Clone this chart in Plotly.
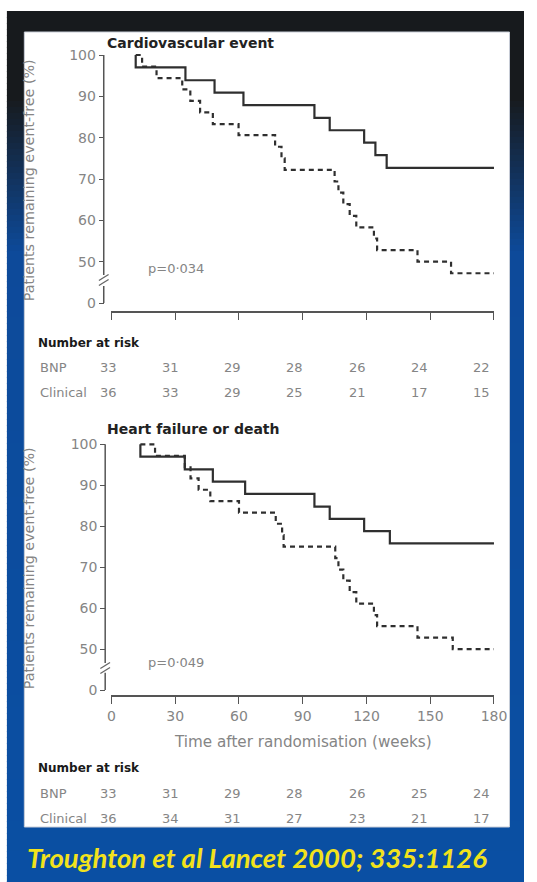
import plotly.graph_objects as go

# ---------------- data ----------------
weeks_ticks = [0, 30, 60, 90, 120, 150, 180]
y_tickvals = [40, 50, 60, 70, 80, 90, 100]
y_ticktext = ["0", "50", "60", "70", "80", "90", "100"]

# Cardiovascular event
cv_bnp_t = [11.4, 11.4, 34.8, 48.5, 62.1, 95.5, 102.7, 118.9, 124.2, 129.5, 180]
cv_bnp_v = [100, 97.0, 93.9, 90.9, 87.9, 84.8, 81.8, 78.8, 75.8, 72.7, 72.7]
cv_cli_t = [11.4, 14.4, 21.2, 33.3, 37.1, 41.7, 47.7, 59.8, 77.0, 80.0, 81.5,
            105.0, 106.8, 109.1, 112.1, 115.2, 123.5, 125.0, 144.0, 159.8, 180]
cv_cli_v = [100, 97.2, 94.4, 91.7, 88.9, 86.1, 83.3, 80.6, 77.8, 75.0, 72.2,
            69.4, 66.7, 63.9, 61.1, 58.3, 55.6, 52.8, 50.0, 47.2, 47.2]

# Heart failure or death
hf_bnp_t = [13.6, 13.6, 34.5, 47.7, 62.9, 95.5, 102.7, 118.9, 131.0, 180]
hf_bnp_v = [100, 97.0, 93.9, 90.9, 87.9, 84.8, 81.8, 78.8, 75.8, 75.8]
hf_cli_t = [13.6, 20.5, 34.5, 37.2, 41.0, 46.5, 60.0, 77.3, 80.3, 81.0,
            105.3, 106.8, 109.1, 112.1, 115.2, 123.5, 125.0, 144.0, 160.6, 180]
hf_cli_v = [100, 97.2, 94.4, 91.7, 88.9, 86.1, 83.3, 80.6, 77.8, 75.0,
            72.2, 69.4, 66.7, 63.9, 61.1, 58.3, 55.6, 52.8, 50.0, 50.0]

risk_times = [0, 30, 60, 90, 120, 150, 180]
cv_risk_bnp = [33, 31, 29, 28, 26, 24, 22]
cv_risk_cli = [36, 33, 29, 25, 21, 17, 15]
hf_risk_bnp = [33, 31, 29, 28, 26, 25, 24]
hf_risk_cli = [36, 34, 31, 27, 23, 21, 17]

# ---------------- geometry helpers ----------------
W, H = 537, 882
def PX(px): return px / W
def PY(py): return 1 - py / H

GRAY = "#858585"
DARK = "#2f2f2f"
FONT = "DejaVu Sans"

fig = go.Figure()

# ---------------- background frame (gradient) ----------------
shapes = []
def lerp(a, b, f): return tuple(int(round(a[i] + (b[i] - a[i]) * f)) for i in range(3))
top_c = (23, 26, 29)
mid_c = (13, 74, 154)
bot_c = (10, 79, 163)
y = 11
step = 6
while y < H:
    if y < 95:
        c = top_c
    elif y < 250:
        c = lerp(top_c, mid_c, (y - 95) / 155)
    else:
        c = lerp(mid_c, bot_c, (y - 250) / (H - 250))
    shapes.append(dict(type="rect", xref="paper", yref="paper",
                       x0=PX(3), x1=1, y0=PY(min(y + step + 1, H)), y1=PY(y),
                       fillcolor="rgb(%d,%d,%d)" % c, line=dict(width=0), layer="below"))
    y += step
# white panel
shapes.append(dict(type="rect", xref="paper", yref="paper",
                   x0=PX(21), x1=PX(522), y0=PY(827), y1=PY(32),
                   fillcolor="white", line=dict(color="#c9ced8", width=1), layer="below"))

# ---------------- axes layout ----------------
def ydom(py0, pxper):
    return [PY(py0 + 2 * pxper), PY(py0 - 62 * pxper)]

dom1 = ydom(303, 4.133)
dom2 = ydom(690, 4.095)
xdom = [PX(111), PX(506)]

axis_common = dict(showgrid=False, zeroline=False, ticks="outside",
                   tickcolor="#555", tickwidth=1.3,
                   tickfont=dict(family=FONT, size=14, color=GRAY))

fig.update_layout(
    width=W, height=H, autosize=False, margin=dict(l=0, r=0, t=0, b=0),
    paper_bgcolor="white", plot_bgcolor="rgba(0,0,0,0)",
    showlegend=False,
    xaxis=dict(domain=xdom, range=[0, 180], anchor="free", position=PY(312),
               tickvals=weeks_ticks, showticklabels=False, ticklen=7,
               showline=True, linecolor="#555", linewidth=1.5, **axis_common),
    yaxis=dict(domain=dom1, range=[38, 102], anchor="free", position=PX(103),
               tickvals=y_tickvals, ticktext=y_ticktext, ticklen=5,
               showline=False, **axis_common),
    xaxis2=dict(domain=xdom, range=[0, 180], anchor="free", position=PY(696),
                tickvals=weeks_ticks, ticklen=7,
                showline=True, linecolor="#555", linewidth=1.5, **axis_common),
    yaxis2=dict(domain=dom2, range=[38, 102], anchor="free", position=PX(104.5),
                tickvals=y_tickvals, ticktext=y_ticktext, ticklen=5,
                showline=False, **axis_common),
)

# ---------------- traces ----------------
def km(t, v, dash, xa, ya):
    fig.add_trace(go.Scatter(x=t, y=v, mode="lines", line_shape="hv",
                             line=dict(color=DARK, width=2.2, dash=dash),
                             xaxis=xa, yaxis=ya, hoverinfo="skip"))

km(cv_bnp_t, cv_bnp_v, "solid", "x", "y")
km(cv_cli_t, cv_cli_v, "5px,4px", "x", "y")
km(hf_bnp_t, hf_bnp_v, "solid", "x2", "y2")
km(hf_cli_t, hf_cli_v, "5px,4px", "x2", "y2")

# ---------------- broken y-axis lines ----------------
def broken_axis(xpx, yref, brk_hi, brk_lo, py_mid):
    ax = PX(xpx)
    shapes.append(dict(type="line", xref="paper", yref=yref, x0=ax, x1=ax, y0=brk_hi, y1=100,
                       line=dict(color="#555", width=1.5)))
    shapes.append(dict(type="line", xref="paper", yref=yref, x0=ax, x1=ax, y0=40, y1=brk_lo,
                       line=dict(color="#555", width=1.5)))
    for off in (-2.5, 2.5):
        shapes.append(dict(type="line", xref="paper", yref="paper",
                           x0=PX(xpx - 5), x1=PX(xpx + 5),
                           y0=PY(py_mid + off + 3), y1=PY(py_mid + off - 3),
                           line=dict(color="#666", width=1.3)))

broken_axis(103, "y", 46.8, 44.1, 280)
broken_axis(104.5, "y2", 46.6, 44.2, 668)

fig.update_layout(shapes=shapes)

# ---------------- annotations ----------------
ann = []
def txt(x, y, s, size=13, color=GRAY, xanchor="left", bold=False, italic=False,
        family=FONT, angle=0):
    ann.append(dict(xref="paper", yref="paper", x=PX(x), y=PY(y), text=s,
                    showarrow=False, xanchor=xanchor, yanchor="middle", textangle=angle,
                    font=dict(family=family, size=size, color=color,
                              weight="bold" if bold else "normal",
                              style="italic" if italic else "normal")))

txt(104, 43, "Cardiovascular event", size=14, color="#222", bold=True)
txt(104, 429, "Heart failure or death", size=14, color="#222", bold=True)
txt(147, 269, "p=0·034", size=13)
txt(147, 662, "p=0·049", size=13)
txt(26, 180, "Patients remaining event-free (%)", size=14.3, xanchor="center", angle=-90)
txt(26, 568, "Patients remaining event-free (%)", size=14.3, xanchor="center", angle=-90)
txt(309, 742, "Time after randomisation (weeks)", size=15.2, xanchor="center")

def risk_x(t):
    return 108 + t * (385 / 180)

def risk_table(py0, bnp, cli):
    txt(33, py0, "Number at risk", size=12, color="#1a1a1a", bold=True)
    txt(35, py0 + 25, "BNP", size=13)
    txt(35, py0 + 50, "Clinical", size=13)
    for t, b, c in zip(risk_times, bnp, cli):
        txt(risk_x(t), py0 + 25, str(b), size=13, xanchor="center")
        txt(risk_x(t), py0 + 50, str(c), size=13, xanchor="center")

risk_table(343, cv_risk_bnp, cv_risk_cli)
risk_table(768, hf_risk_bnp, hf_risk_cli)

txt(261, 857, "Troughton et al Lancet 2000; 335:1126", size=27.5, color="#f2e21c",
    xanchor="center", bold=True, italic=True, family="Lato")

fig.update_layout(annotations=ann)

# remove page margins and fit the (paper-coordinate) layout to the real viewport
post = (
    "document.documentElement.style.margin='0';"
    "document.documentElement.style.overflow='hidden';"
    "document.body.style.margin='0';"
    "document.body.style.overflow='hidden';"
    "var gd=document.getElementById('{plot_id}');"
    "var w=document.documentElement.clientWidth||window.innerWidth;"
    "var h=document.documentElement.clientHeight||window.innerHeight;"
    "if(w>0&&h>0&&(Math.abs(w-%d)>1||Math.abs(h-%d)>1)){Plotly.relayout(gd,{width:w,height:h});}"
    % (W, H)
)
fig.write_html("out.html",
               config={"displayModeBar": False, "responsive": False},
               post_script=post)
